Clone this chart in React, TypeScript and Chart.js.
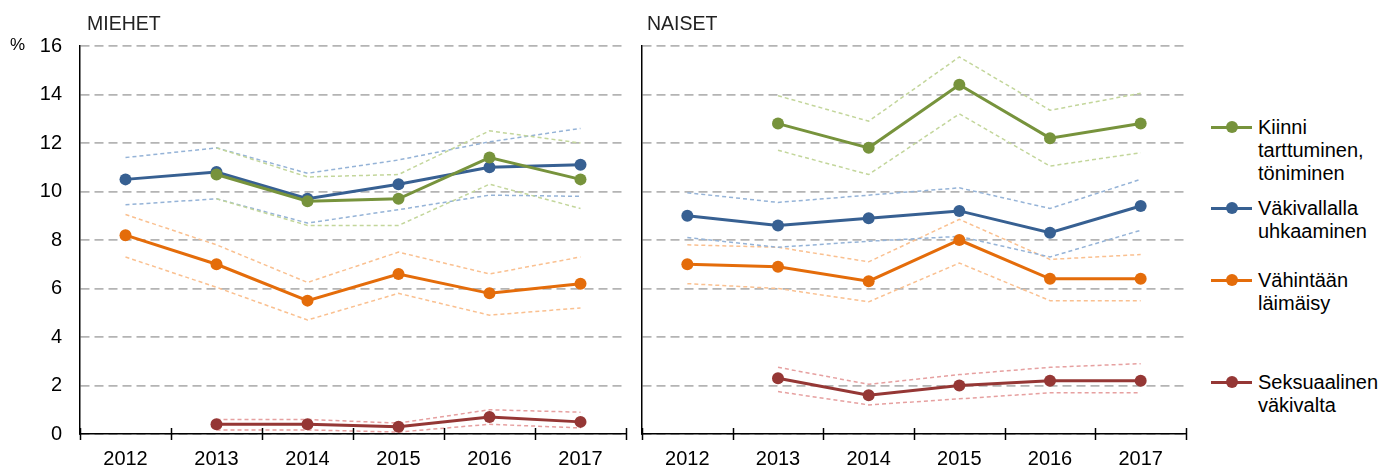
import React, { useEffect, useRef } from "react";
import { Chart, registerables } from "chart.js";
Chart.register(...registerables);

const years = ["2012", "2013", "2014", "2015", "2016", "2017"];
const yMin = 0;
const yMax = 16;
const yStep = 2;

// MIEHET
const menGrip = [null, 10.7, 9.6, 9.7, 11.4, 10.5];
const menGripHi = [null, 11.8, 10.6, 10.7, 12.5, 12.0];
const menGripLo = [null, 9.7, 8.6, 8.6, 10.3, 9.3];
const menThreat = [10.5, 10.8, 9.7, 10.3, 11.0, 11.1];
const menThreatHi = [11.4, 11.8, 10.75, 11.3, 12.05, 12.6];
const menThreatLo = [9.45, 9.7, 8.7, 9.25, 9.85, 9.8];
const menSlap = [8.2, 7.0, 5.5, 6.6, 5.8, 6.2];
const menSlapHi = [9.05, 7.8, 6.25, 7.5, 6.6, 7.3];
const menSlapLo = [7.3, 6.05, 4.7, 5.8, 4.9, 5.2];
const menSex = [null, 0.4, 0.4, 0.3, 0.7, 0.5];
const menSexHi = [null, 0.6, 0.6, 0.45, 1.0, 0.9];
const menSexLo = [null, 0.17, 0.17, 0.08, 0.4, 0.25];

// NAISET
const womenGrip = [null, 12.8, 11.8, 14.4, 12.2, 12.8];
const womenGripHi = [null, 13.95, 12.9, 15.55, 13.35, 14.05];
const womenGripLo = [null, 11.7, 10.7, 13.2, 11.05, 11.6];
const womenThreat = [9.0, 8.6, 8.9, 9.2, 8.3, 9.4];
const womenThreatHi = [9.95, 9.55, 9.85, 10.15, 9.3, 10.5];
const womenThreatLo = [8.1, 7.7, 7.95, 8.15, 7.3, 8.4];
const womenSlap = [7.0, 6.9, 6.3, 8.0, 6.4, 6.4];
const womenSlapHi = [7.8, 7.7, 7.1, 8.85, 7.2, 7.4];
const womenSlapLo = [6.2, 6.0, 5.45, 7.05, 5.5, 5.5];
const womenSex = [null, 2.3, 1.6, 2.0, 2.2, 2.2];
const womenSexHi = [null, 2.75, 2.05, 2.45, 2.75, 2.9];
const womenSexLo = [null, 1.75, 1.2, 1.45, 1.7, 1.7];

const seriesNames = [
  "Kiinni tarttuminen, töniminen",
  "Väkivallalla uhkaaminen",
  "Vähintään läimäisy",
  "Seksuaalinen väkivalta",
];
const legendLines = [
  ["Kiinni", "tarttuminen,", "töniminen"],
  ["Väkivallalla", "uhkaaminen"],
  ["Vähintään", "läimäisy"],
  ["Seksuaalinen", "väkivalta"],
];
const mainColors = ["#77933C", "#376092", "#E46C0A", "#953735"];
const lightColors = ["#C3D69B", "#95B3D7", "#FAC090", "#E6A0A0"];

const FONT = "'Liberation Sans', Arial, sans-serif";

function buildDatasets(main: any[][], hi: any[][], lo: any[][]) {
  const ds: any[] = [];
  main.forEach((data, i) => {
    ds.push({
      label: seriesNames[i],
      data,
      borderColor: mainColors[i],
      backgroundColor: mainColors[i],
      borderWidth: 3,
      pointRadius: 6,
      pointHoverRadius: 6,
      pointBorderWidth: 0,
      tension: 0,
    });
  });
  main.forEach((_, i) => {
    [hi[i], lo[i]].forEach((data, k) => {
      ds.push({
        label: seriesNames[i] + (k === 0 ? " ylä" : " ala"),
        data,
        borderColor: lightColors[i],
        backgroundColor: lightColors[i],
        borderWidth: 1.5,
        borderDash: [4, 3],
        pointRadius: 0,
        tension: 0,
      });
    });
  });
  return ds;
}

const crossTicks = {
  id: "crossTicks",
  afterDraw(chart: any) {
    const { ctx, chartArea } = chart;
    const n = years.length;
    const w = (chartArea.right - chartArea.left) / n;
    ctx.save();
    ctx.strokeStyle = "#000";
    ctx.lineWidth = 1.5;
    for (let i = 0; i <= n; i++) {
      const x = Math.round(chartArea.left + i * w) + 0.5;
      ctx.beginPath();
      ctx.moveTo(x, chartArea.bottom - 6);
      ctx.lineTo(x, chartArea.bottom + 6);
      ctx.stroke();
    }
    ctx.restore();
  },
};

function makeConfig(datasets: any[], showY: boolean, yWidth: number, padRight: number): any {
  return {
    type: "line",
    data: { labels: years, datasets },
    plugins: [crossTicks],
    options: {
      animation: false,
      responsive: false,
      events: [],
      layout: { padding: { top: 46, right: padRight, left: 0, bottom: 0 } },
      plugins: { legend: { display: false }, tooltip: { enabled: false }, title: { display: false } },
      scales: {
        x: {
          type: "category",
          offset: true,
          grid: { display: false, drawTicks: false },
          border: { display: true, color: "#000", width: 1.5 },
          ticks: { color: "#000", font: { family: FONT, size: 20 }, padding: 13, maxRotation: 0 },
          afterFit: (s: any) => {
            s.height = 31;
          },
        },
        y: {
          min: yMin,
          max: yMax,
          ticks: {
            display: showY,
            stepSize: yStep,
            color: "#000",
            font: { family: FONT, size: 20 },
            padding: 18,
          },
          grid: { color: "#B4B4B4", lineWidth: 1.8, drawTicks: false },
          border: { display: true, color: "#000", width: 1.5, dash: [9, 5] },
          afterFit: (s: any) => {
            s.width = yWidth;
          },
        },
      },
    },
  };
}

export default function App() {
  const ref1 = useRef<HTMLCanvasElement>(null);
  const ref2 = useRef<HTMLCanvasElement>(null);

  useEffect(() => {
    const c1 = new Chart(
      ref1.current!,
      makeConfig(
        buildDatasets(
          [menGrip, menThreat, menSlap, menSex],
          [menGripHi, menThreatHi, menSlapHi, menSexHi],
          [menGripLo, menThreatLo, menSlapLo, menSexLo]
        ),
        true,
        80,
        4
      )
    );
    const c2 = new Chart(
      ref2.current!,
      makeConfig(
        buildDatasets(
          [womenGrip, womenThreat, womenSlap, womenSex],
          [womenGripHi, womenThreatHi, womenSlapHi, womenSexHi],
          [womenGripLo, womenThreatLo, womenSlapLo, womenSexLo]
        ),
        false,
        10,
        3
      )
    );
    return () => {
      c1.destroy();
      c2.destroy();
    };
  }, []);

  const legendTops = [127, 208, 280, 382];

  return (
    <div
      style={{
        position: "fixed",
        left: 0,
        top: 0,
        width: 1387,
        height: 465,
        background: "#fff",
        fontFamily: FONT,
        overflow: "hidden",
      }}
    >
      <canvas ref={ref1} width={632} height={465} style={{ position: "absolute", left: 0, top: 0 }} />
      <canvas ref={ref2} width={560} height={465} style={{ position: "absolute", left: 632, top: 0 }} />
      <div style={{ position: "absolute", left: 87, top: 12, fontSize: 19.5, color: "#222" }}>MIEHET</div>
      <div style={{ position: "absolute", left: 647, top: 12, fontSize: 19.5, color: "#222" }}>NAISET</div>
      <div style={{ position: "absolute", left: 10, top: 35, fontSize: 17, color: "#000" }}>%</div>
      {legendLines.map((lines, i) => (
        <div key={i} style={{ position: "absolute", left: 1211, top: legendTops[i] - 11.5 }}>
          <div
            style={{
              position: "absolute",
              left: 0,
              top: 10,
              width: 41,
              height: 3,
              background: mainColors[i],
            }}
          />
          <div
            style={{
              position: "absolute",
              left: 14.5,
              top: 5.5,
              width: 12,
              height: 12,
              borderRadius: 6,
              background: mainColors[i],
            }}
          />
          <div
            style={{
              position: "absolute",
              left: 47,
              top: 0,
              fontSize: 20,
              lineHeight: "23px",
              color: "#000",
              whiteSpace: "nowrap",
            }}
          >
            {lines.map((l, j) => (
              <div key={j}>{l}</div>
            ))}
          </div>
        </div>
      ))}
    </div>
  );
}
